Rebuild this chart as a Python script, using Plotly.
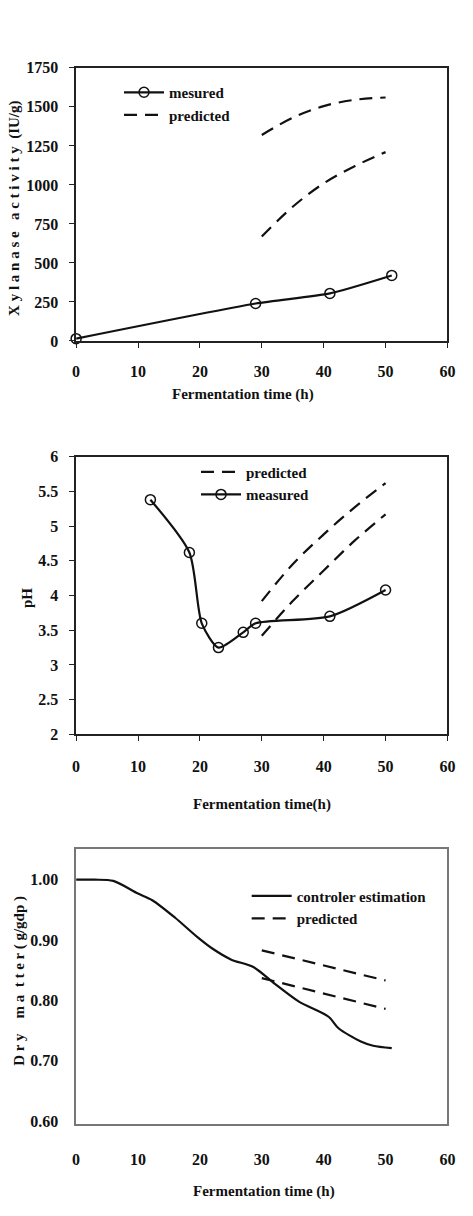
import plotly.graph_objects as go

# ---- data ----
# Panel 1: xylanase activity
x1_meas = [0, 29, 41, 51]
y1_meas = [15, 240, 305, 420]
x1_pred = [30, 35, 40, 45, 50]
y1_pred_hi = [1320, 1430, 1505, 1545, 1560]
y1_pred_lo = [670, 860, 1010, 1120, 1210]

# Panel 2: pH
x2_meas = [12, 18.3, 20.3, 23, 27, 29, 41, 50]
y2_meas = [5.38, 4.62, 3.6, 3.25, 3.47, 3.6, 3.7, 4.08]
x2_pred = [30, 35, 40, 45, 50]
y2_pred_hi = [3.92, 4.45, 4.88, 5.27, 5.62]
y2_pred_lo = [3.42, 3.92, 4.36, 4.79, 5.17]

# Panel 3: dry matter
x3_est = [0, 3, 6, 10, 12.3, 16, 19.7, 22, 25, 28.7, 31.8, 36, 40.8, 42.4, 46, 48, 51]
y3_est = [1.0, 1.0, 0.998, 0.977, 0.966, 0.937, 0.904, 0.886, 0.868, 0.855, 0.83, 0.798, 0.773, 0.754, 0.732, 0.725, 0.721]
x3_pred = [30, 40, 50]
y3_pred_hi = [0.883, 0.858, 0.833]
y3_pred_lo = [0.837, 0.812, 0.786]

xticks = [0, 10, 20, 30, 40, 50, 60]
y1_ticks = [0, 250, 500, 750, 1000, 1250, 1500, 1750]
y2_ticks = [2, 2.5, 3, 3.5, 4, 4.5, 5, 5.5, 6]
y2_labels = ["2", "2.5", "3", "3.5", "4", "4.5", "5", "5.5", "6"]
y3_ticks = [0.6, 0.7, 0.8, 0.9, 1.0]
y3_labels = ["0.60", "0.70", "0.80", "0.90", "1.00"]

FONT = "Liberation Serif"
W, H = 473, 1216
BLK = "#111111"
DASH = "13px,8px"

fig = go.Figure()

def px2x(p):
    return p / W

def px2y(p):
    return 1 - p / H

def b(s):
    return "<b>%s</b>" % s

# panel 1
fig.add_trace(go.Scatter(x=x1_meas, y=y1_meas, mode="lines+markers", name=b("mesured"),
                         line=dict(color=BLK, width=2.2, shape="spline", smoothing=0.6),
                         marker=dict(symbol="circle-open", size=10, color=BLK, line=dict(width=1.5)),
                         cliponaxis=False, xaxis="x", yaxis="y", legend="legend"))
fig.add_trace(go.Scatter(x=x1_pred, y=y1_pred_hi, mode="lines", name=b("predicted"),
                         line=dict(color=BLK, width=2.2, dash=DASH, shape="spline"),
                         xaxis="x", yaxis="y", legend="legend"))
fig.add_trace(go.Scatter(x=x1_pred, y=y1_pred_lo, mode="lines", name=b("predicted"), showlegend=False,
                         line=dict(color=BLK, width=2.2, dash=DASH, shape="spline"),
                         xaxis="x", yaxis="y"))

# panel 2
fig.add_trace(go.Scatter(x=x2_pred, y=y2_pred_hi, mode="lines", name=b("predicted"),
                         line=dict(color=BLK, width=2.2, dash=DASH, shape="spline"),
                         xaxis="x2", yaxis="y2", legend="legend2"))
fig.add_trace(go.Scatter(x=x2_pred, y=y2_pred_lo, mode="lines", name=b("predicted"), showlegend=False,
                         line=dict(color=BLK, width=2.2, dash=DASH, shape="spline"),
                         xaxis="x2", yaxis="y2"))
fig.add_trace(go.Scatter(x=x2_meas, y=y2_meas, mode="lines+markers", name=b("measured"),
                         line=dict(color=BLK, width=2.2, shape="spline", smoothing=0.7),
                         marker=dict(symbol="circle-open", size=10, color=BLK, line=dict(width=1.5)),
                         cliponaxis=False, xaxis="x2", yaxis="y2", legend="legend2"))

# panel 3
fig.add_trace(go.Scatter(x=x3_est, y=y3_est, mode="lines", name=b("controler estimation"),
                         line=dict(color=BLK, width=2.2, shape="spline", smoothing=0.8),
                         xaxis="x3", yaxis="y3", legend="legend3"))
fig.add_trace(go.Scatter(x=x3_pred, y=y3_pred_hi, mode="lines", name=b("predicted"),
                         line=dict(color=BLK, width=2.2, dash=DASH),
                         xaxis="x3", yaxis="y3", legend="legend3"))
fig.add_trace(go.Scatter(x=x3_pred, y=y3_pred_lo, mode="lines", name=b("predicted"), showlegend=False,
                         line=dict(color=BLK, width=2.2, dash=DASH),
                         xaxis="x3", yaxis="y3"))

tickfont = dict(family=FONT, size=16, color=BLK)

def xax(anchor, ticks="outside", color="#222", standoff=12):
    return dict(domain=[px2x(74), px2x(455)], range=[0, 60], tickvals=xticks,
                ticktext=[b(v) for v in xticks],
                showgrid=False, zeroline=False, showline=True, linecolor=color, linewidth=1.5,
                mirror=True, ticks=ticks, ticklen=5, tickwidth=1.3, tickcolor=color,
                tickfont=tickfont, ticklabelstandoff=standoff, anchor=anchor, fixedrange=True)

def yax(dom, rng, tickvals, ticktext, anchor, ticks="outside", color="#222", standoff=8):
    return dict(domain=dom, range=rng, tickvals=tickvals, ticktext=[b(t) for t in ticktext],
                showgrid=False, zeroline=False, showline=True, linecolor=color, linewidth=1.5,
                mirror=True, ticks=ticks, ticklen=5, tickwidth=1.3, tickcolor=color,
                tickfont=tickfont, ticklabelstandoff=standoff, anchor=anchor, fixedrange=True)

legend_common = dict(bgcolor="rgba(0,0,0,0)", font=dict(family=FONT, size=15, color=BLK),
                     xanchor="left", yanchor="top", tracegroupgap=0, itemwidth=40,
                     traceorder="normal")

fig.update_layout(
    width=W, height=H, margin=dict(l=0, r=0, t=0, b=0),
    paper_bgcolor="white", plot_bgcolor="white",
    xaxis=xax("y", standoff=10),
    yaxis=yax([px2y(337.7), px2y(60.7)], [0, 1750], y1_ticks, [str(v) for v in y1_ticks], "x"),
    xaxis2=xax("y2", standoff=12),
    yaxis2=yax([px2y(736.7), px2y(455)], [2, 6], y2_ticks, y2_labels, "x2"),
    xaxis3=xax("y3", ticks="", color="#777", standoff=20),
    yaxis3=yax([px2y(1131.7), px2y(853)], [0.5956, 1.0507], y3_ticks, y3_labels, "x3",
               ticks="", color="#777", standoff=13),
    legend=dict(x=px2x(118), y=px2y(69), **legend_common),
    legend2=dict(x=px2x(197), y=px2y(454), **legend_common),
    legend3=dict(x=px2x(249), y=px2y(884), **legend_common),
    showlegend=True,
)

ann_font = dict(family=FONT, size=15, color=BLK)
annotations = [
    dict(text=b("Fermentation time (h)"), x=px2x(245), y=px2y(392), xref="paper", yref="paper",
         showarrow=False, font=ann_font, xanchor="center", yanchor="middle"),
    dict(text=b("Fermentation time(h)"), x=px2x(265), y=px2y(808), xref="paper", yref="paper",
         showarrow=False, font=ann_font, xanchor="center", yanchor="middle"),
    dict(text=b("Fermentation time (h)"), x=px2x(267), y=px2y(1200), xref="paper", yref="paper",
         showarrow=False, font=ann_font, xanchor="center", yanchor="middle"),
    dict(text=b("pH"), x=px2x(23), y=px2y(598), xref="paper", yref="paper", textangle=-90,
         showarrow=False, font=ann_font, xanchor="center", yanchor="middle"),
    dict(text=b("X y l a n a s e   a c t i v i t y  (IU/g)"), x=px2x(10), y=px2y(203),
         xref="paper", yref="paper", textangle=-90, showarrow=False, font=ann_font,
         xanchor="center", yanchor="middle"),
    dict(text=b("D r y    m a  t t e r ( g/gdp )"), x=px2x(16), y=px2y(987), xref="paper", yref="paper",
         textangle=-90, showarrow=False, font=ann_font, xanchor="center", yanchor="middle"),
]
fig.update_layout(annotations=annotations)

fig.write_html("out.html")
